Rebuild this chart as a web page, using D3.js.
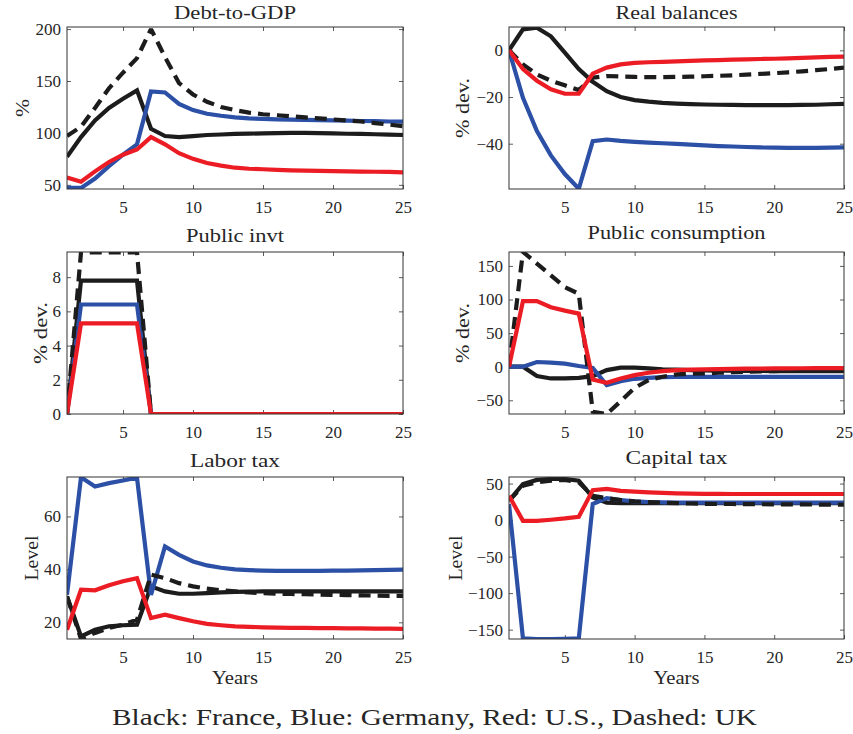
<!DOCTYPE html>
<html><head><meta charset="utf-8">
<script src="https://cdn.jsdelivr.net/npm/d3@7"></script>
<style>body{margin:0;background:#fff}svg{display:block}text{font-family:"Liberation Serif","Times New Roman",serif;fill:#262626}</style>
</head><body><svg id="c" width="853" height="734"></svg>
<script>
// ---------- data ----------
const years = [1,2,3,4,5,6,7,8,9,10,11,12,13,14,15,16,17,18,19,20,21,22,23,24,25];
const xTicks = [5,10,15,20,25];
const countries = ["France","Germany","UK","US"];

const titles = ["Debt-to-GDP","Real balances","Public invt","Public consumption","Labor tax","Capital tax"];
const yLabels = ["%","% dev.","% dev.","% dev.","Level","Level"];
const yDomains = [[46,202],[-59.4,10],[0,9.47],[-70.4,170.7],[13.7,74.9],[-162.8,59]];
const yTicks = [[50,100,150,200],[-40,-20,0],[0,2,4,6,8],[-50,0,50,100,150],[20,40,60],[-150,-100,-50,0,50]];

// Debt-to-GDP
const debtFrance  = [77,96,112,124,133,141,104,97,96,97,98,98.5,99,99.3,99.6,99.8,100,100,99.8,99.5,99.2,99,98.7,98.3,98];
const debtGermany = [47,47,56,68,79,89,140,139,128,122,118.5,116.5,115,114,113.5,113,112.8,112.5,112.3,112,111.8,111.5,111.3,111,110.8];
const debtUK      = [97,106,124,143,158,172,200,173,148,137,130,125,122,119.5,118,117,116,115,114,113,112,111,109.5,108,106.5];
const debtUS      = [57,53,63,72,79,84,96,89,80.5,75,71,68.5,66.5,65.5,65,64.5,64,63.7,63.5,63.2,63,62.8,62.6,62.4,62];
// Real balances
const rbFrance  = [0,9,9.7,6,-1,-8,-13.5,-17.5,-20,-21.3,-22,-22.5,-22.8,-23,-23.2,-23.3,-23.4,-23.5,-23.5,-23.5,-23.5,-23.4,-23.3,-23.1,-22.9];
const rbGermany = [0,-20.3,-34.6,-45,-53,-59.3,-38.9,-38.2,-38.8,-39.2,-39.5,-39.8,-40.1,-40.4,-40.7,-41,-41.2,-41.4,-41.6,-41.7,-41.8,-41.8,-41.8,-41.7,-41.6];
const rbUK      = [0,-6,-10.3,-13,-15,-17,-11.7,-11,-11.2,-11.4,-11.5,-11.5,-11.4,-11.3,-11.1,-10.9,-10.7,-10.4,-10.1,-9.8,-9.4,-9,-8.5,-8,-7.4];
const rbUS      = [0,-8,-13,-16.7,-18.6,-18.6,-10,-7.4,-6,-5.4,-5.1,-4.9,-4.7,-4.5,-4.3,-4.2,-4,-3.9,-3.7,-3.6,-3.4,-3.2,-3,-2.8,-2.7];
// Public investment
const piFrance  = [0,7.8,7.8,7.8,7.8,7.8,0,0,0,0,0,0,0,0,0,0,0,0,0,0,0,0,0,0,0];
const piGermany = [0,6.4,6.4,6.4,6.4,6.4,0,0,0,0,0,0,0,0,0,0,0,0,0,0,0,0,0,0,0];
const piUK      = [0,9.45,9.45,9.45,9.45,9.45,0,0,0,0,0,0,0,0,0,0,0,0,0,0,0,0,0,0,0];
const piUS      = [0,5.3,5.3,5.3,5.3,5.3,0,0,0,0,0,0,0,0,0,0,0,0,0,0,0,0,0,0,0];
// Public consumption
const pcFrance  = [0,0,-14,-17.5,-17.5,-16.5,-14,-5,-1.5,-1.5,-2.5,-4,-4.5,-5,-5.5,-5.8,-6,-6.2,-6.3,-6.5,-6.5,-6.5,-6.5,-6.5,-6.5];
const pcGermany = [0,0,7,6,4.5,1,-2,-27.5,-21.5,-18,-16.5,-15.5,-15.3,-15.1,-15,-15,-15,-15,-15,-15,-15,-15,-15,-15,-15];
const pcUK      = [0,171,153.5,136,118.5,108.5,-67,-70.4,-51.5,-31.5,-20,-15,-11.5,-10.5,-10,-9,-8.2,-7.5,-7,-6.5,-6,-5.7,-5.4,-5.2,-5];
const pcUS      = [0,97.5,97.5,88.5,83.5,79,-19,-24,-17.5,-12.5,-9,-6.5,-5.2,-4.5,-4,-3.6,-3.3,-3,-2.8,-2.6,-2.4,-2.3,-2.2,-2.1,-2];
// Labor tax
const ltFrance  = [29.8,14.7,17.2,18.5,18.9,19.1,33.6,31.7,30.8,30.8,31,31.3,31.5,31.6,31.7,31.7,31.7,31.7,31.7,31.7,31.7,31.7,31.7,31.7,31.7];
const ltGermany = [30.4,74.8,71.3,72.6,73.6,74.6,30.4,48.7,45.5,43,41.5,40.6,40,39.7,39.5,39.4,39.4,39.4,39.4,39.5,39.5,39.6,39.7,39.8,39.9];
const ltUK      = [29.8,13.7,16,17.9,19.1,21,38,36.7,34.8,33.6,32.7,32.1,31.7,31.3,31,30.8,30.7,30.6,30.5,30.4,30.3,30.2,30.1,30,30];
const ltUS      = [17.2,32.3,32.1,34,35.5,36.7,21.6,22.9,21.6,20.4,19.4,18.9,18.5,18.3,18.1,18,17.9,17.9,17.8,17.8,17.7,17.7,17.6,17.6,17.5];
// Capital tax
const ctFrance  = [26.5,49.4,55,56.3,56.3,54,31,24,23.3,23.3,23.3,23.3,23.3,23.3,23.3,23.3,23.3,23.3,23.3,23.3,23.3,23.3,23.3,23.3,23.3];
const ctGermany = [22,-162,-163,-163,-162.5,-162,22,30,27.5,25.6,24.8,24.2,24,23.9,23.8,23.8,23.8,23.8,23.8,23.8,23.8,23.8,23.8,23.8,23.8];
const ctUK      = [26.5,47,51.7,54,55,51.7,33.4,30,27.5,25.6,24.6,23.8,23.2,22.7,22.3,22,22,21.8,21.7,21.6,21.5,21.4,21.3,21.2,21];
const ctUS      = [33.4,-1,-1,0.5,2.3,4.6,41,42.6,40,39,38,37.2,36.7,36.3,36,35.8,35.7,35.7,35.7,35.7,35.7,35.7,35.7,35.7,35.7];

const caption = "Black: France, Blue: Germany, Red: U.S., Dashed: UK";

// ---------- build ----------
const panelSeries = [
  [debtFrance, debtGermany, debtUK, debtUS],
  [rbFrance, rbGermany, rbUK, rbUS],
  [piFrance, piGermany, piUK, piUS],
  [pcFrance, pcGermany, pcUK, pcUS],
  [ltFrance, ltGermany, ltUK, ltUS],
  [ctFrance, ctGermany, ctUK, ctUS]
];
const styles = {
  France: {color:"#1c1c1c", dash:null},
  Germany:{color:"#2c50a6", dash:null},
  UK:     {color:"#1c1c1c", dash:"12,7"},
  US:     {color:"#ec1c24", dash:null}
};

const svg = d3.select("#c");
const colLeft = [67, 509], colW = [336, 335];
const rowTop = [27, 252, 477], plotH = 162;
const titleBase = [19, 19, 242, 239, 467, 464];
const titleW = [122, 122, 98, 178, 90, 102];
const ylabW = [18, 60, 62, 60, 45, 45];

panelSeries.forEach((series, i) => {
  const c = i % 2, r = Math.floor(i / 2);
  const L = colLeft[c], T = rowTop[r], W = colW[c], H = plotH;
  const x = d3.scaleLinear().domain([1, 25]).range([0, W]);
  const y = d3.scaleLinear().domain(yDomains[i]).range([H, 0]);
  const g = svg.append("g").attr("transform", `translate(${L},${T})`);

  const clipId = "clip" + i;
  g.append("clipPath").attr("id", clipId).append("rect")
    .attr("x", 0).attr("y", 0).attr("width", W).attr("height", H);

  const fmt = d => (d < 0 ? "\u2212" + Math.abs(d) : String(d));
  // axes with inward ticks
  const ax = [
    g.append("g").attr("transform", `translate(0,${H})`).call(d3.axisBottom(x).tickValues(xTicks).tickSizeInner(-4).tickSizeOuter(0).tickPadding(12)),
    g.append("g").call(d3.axisTop(x).tickValues(xTicks).tickSizeInner(-4).tickSizeOuter(0).tickFormat("")),
    g.append("g").call(d3.axisLeft(y).tickValues(yTicks[i]).tickSizeInner(-4).tickSizeOuter(0).tickPadding(6).tickFormat(fmt)),
    g.append("g").attr("transform", `translate(${W},0)`).call(d3.axisRight(y).tickValues(yTicks[i]).tickSizeInner(-4).tickSizeOuter(0).tickFormat(""))
  ];
  ax.forEach(a => {
    a.select(".domain").remove();
    a.selectAll("line").attr("stroke", "#333").attr("stroke-width", 0.8);
    a.selectAll("text").attr("font-size", 17).attr("fill", "#262626")
      .style("font-family", '"Liberation Serif","Times New Roman",serif');
  });

  const line = d3.line().x((d, k) => x(years[k])).y(d => y(d));
  const lg = g.append("g").attr("clip-path", `url(#${clipId})`);
  series.forEach((vals, s) => {
    const st = styles[countries[s]];
    lg.append("path").datum(vals).attr("d", line)
      .attr("fill", "none").attr("stroke", st.color).attr("stroke-width", 4.2)
      .attr("stroke-linejoin", "miter").attr("stroke-miterlimit", 2)
      .attr("stroke-dasharray", st.dash);
  });

  g.append("rect").attr("x", 0).attr("y", 0).attr("width", W).attr("height", H)
    .attr("fill", "none").attr("stroke", "#333").attr("stroke-width", 1);

  // title
  svg.append("text").attr("x", L + W / 2).attr("y", titleBase[i])
    .attr("text-anchor", "middle").attr("font-size", 18)
    .attr("textLength", titleW[i]).attr("lengthAdjust", "spacingAndGlyphs")
    .text(titles[i]);

  // y label
  const ylx = c === 0 ? (i === 0 ? 29 : (r === 2 ? 38 : 47)) : (r === 2 ? 462 : 469);
  svg.append("text")
    .attr("transform", `translate(${ylx},${T + H / 2}) rotate(-90)`)
    .attr("text-anchor", "middle").attr("font-size", 19)
    .attr("textLength", ylabW[i]).attr("lengthAdjust", "spacingAndGlyphs")
    .text(yLabels[i]);

  if (r === 2) {
    svg.append("text").attr("x", L + W / 2).attr("y", 684)
      .attr("text-anchor", "middle").attr("font-size", 19)
      .attr("textLength", 46).attr("lengthAdjust", "spacingAndGlyphs")
      .text("Years");
  }
});

svg.append("text").attr("x", 434.5).attr("y", 725)
  .attr("text-anchor", "middle").attr("font-size", 23)
  .attr("textLength", 645).attr("lengthAdjust", "spacingAndGlyphs")
  .text(caption);
</script>
</body></html>
